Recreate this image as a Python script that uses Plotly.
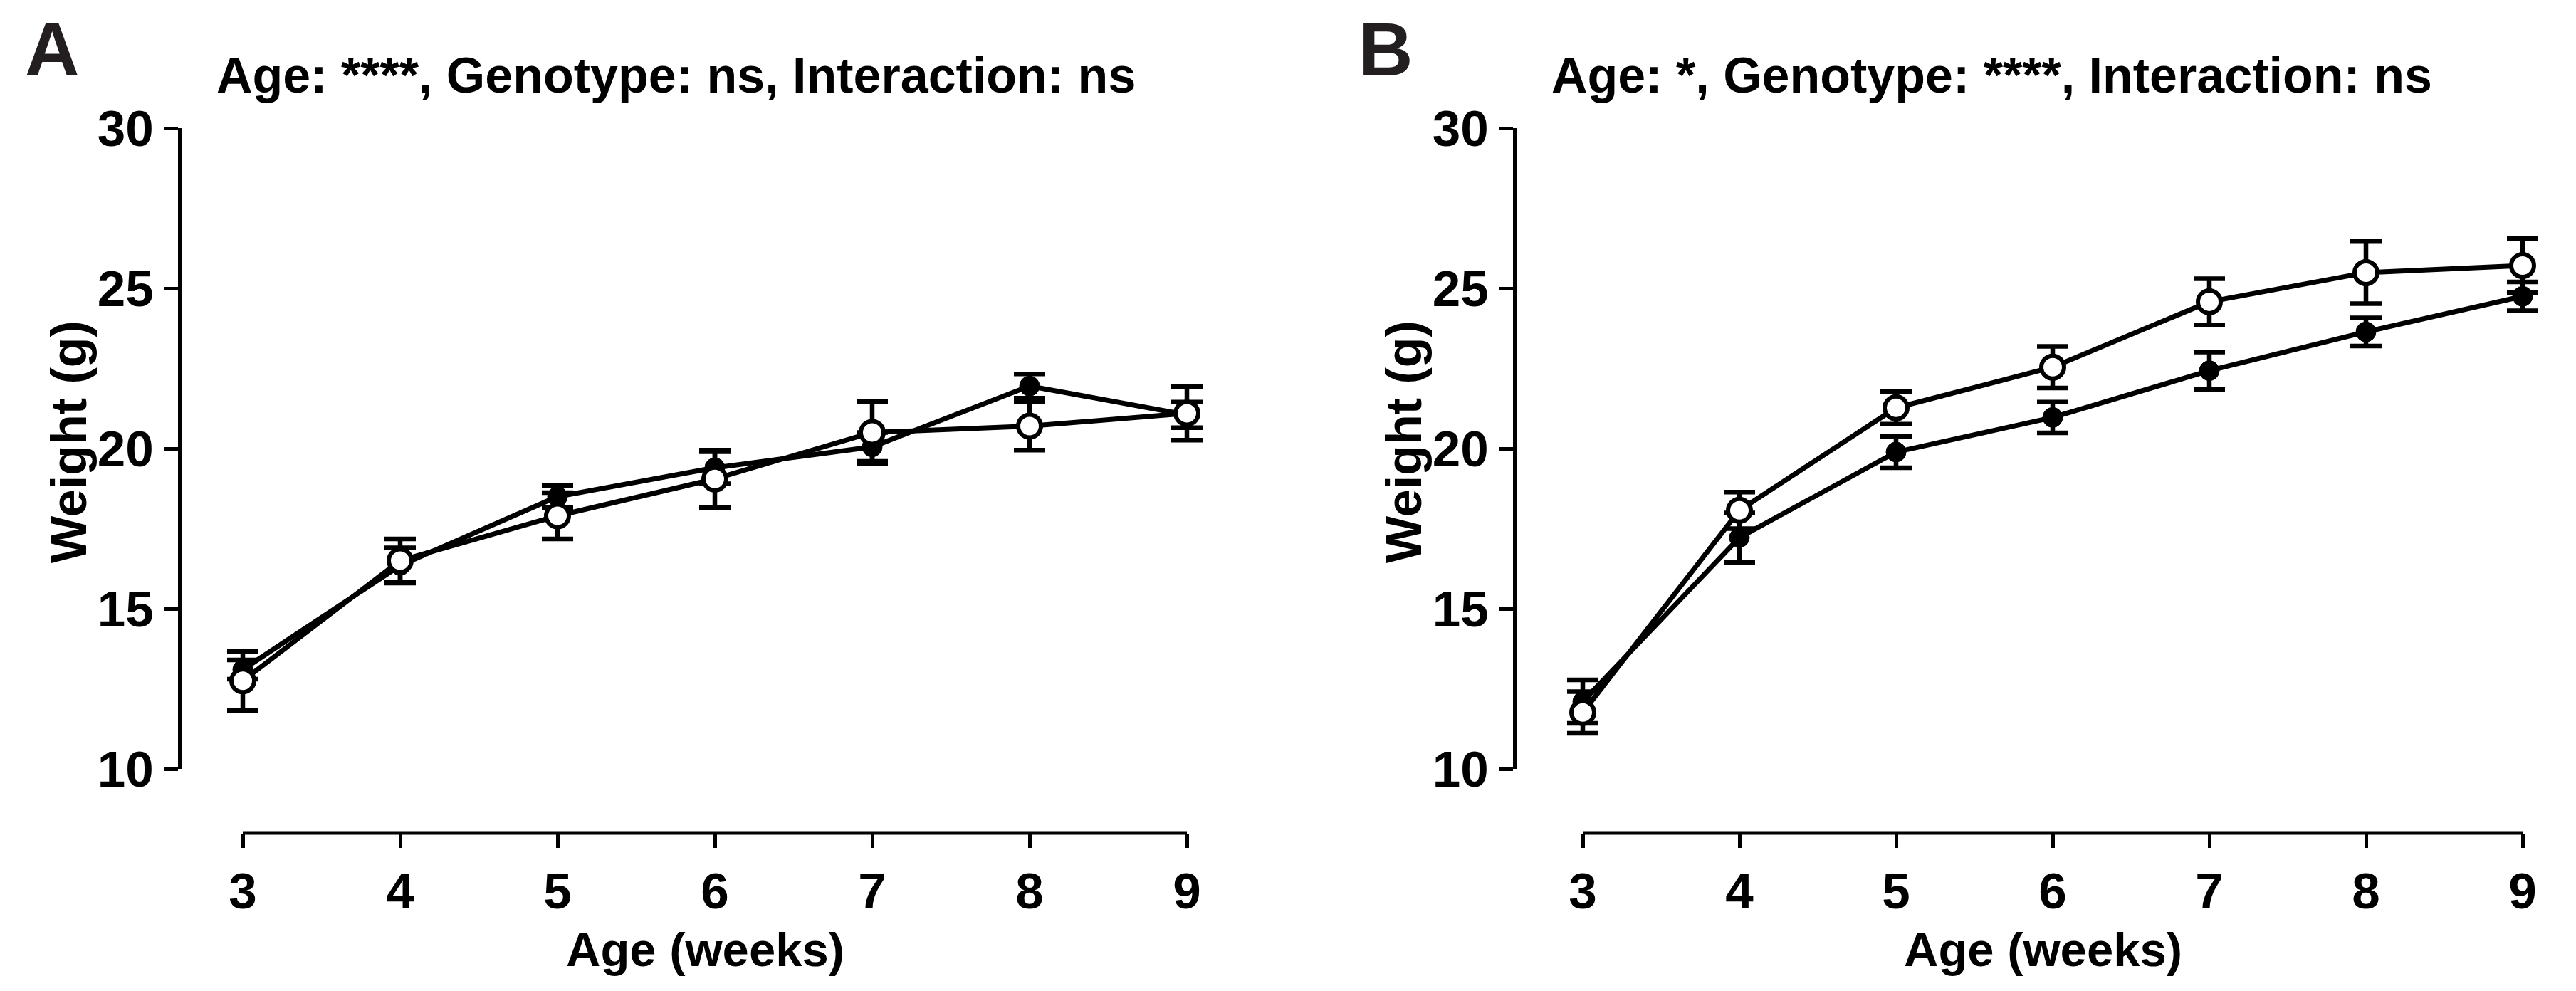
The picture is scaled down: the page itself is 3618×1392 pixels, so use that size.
import plotly.graph_objects as go

# ---------------- data ----------------
weeks = [3, 4, 5, 6, 7, 8, 9]
y_ticks = [10, 15, 20, 25, 30]

# Panel A
a_filled = [13.1, 16.35, 18.5, 19.4, 20.05, 21.95, 21.05]
a_filled_sem = [0.3, 0.55, 0.35, 0.5, 0.45, 0.38, 0.4]
a_open = [12.75, 16.5, 17.9, 19.05, 20.5, 20.7, 21.1]
a_open_sem = [0.92, 0.68, 0.72, 0.9, 0.97, 0.75, 0.84]

# Panel B
b_filled = [12.1, 17.22, 19.89, 20.97, 22.43, 23.64, 24.75]
b_filled_sem = [0.68, 0.77, 0.49, 0.48, 0.58, 0.44, 0.45]
b_open = [11.76, 18.07, 21.27, 22.54, 24.58, 25.49, 25.71]
b_open_sem = [0.65, 0.57, 0.51, 0.65, 0.72, 0.97, 0.85]

title_a = "Age: ****, Genotype: ns, Interaction: ns"
title_b = "Age: *, Genotype: ****, Interaction: ns"
x_title = "Age (weeks)"
y_title = "Weight (g)"

# ---------------- layout helpers ----------------
W, H = 3618, 1392
OFF = 8  # default page body margin in the browser
FONT = "Liberation Sans, Arial, Helvetica, sans-serif"


def fx(px):
    return (px - OFF) / W


def fy(py):
    return 1 - (py - OFF) / H


# pixel geometry of each panel
panels = [
    dict(x3=341, x9=1667, yaxis_x=252, title=title_a, tx=950, letter="A",
         lx=73, xl=990, yl=97, f=a_filled, fe=a_filled_sem,
         o=a_open, oe=a_open_sem),
    dict(x3=2223, x9=3543, yaxis_x=2127, title=title_b, tx=2797, letter="B",
         lx=1946, xl=2869, yl=1972, f=b_filled, fe=b_filled_sem,
         o=b_open, oe=b_open_sem),
]
Y30, Y10, XAXIS_Y = 180, 1080, 1170
PAD = 0.2  # extra range in weeks on both sides so markers are not clipped

fig = go.Figure()
annotations = []
shapes = []
lay = {}

for i, p in enumerate(panels):
    n = "" if i == 0 else str(i + 1)
    xa, ya = "x" + n, "y" + n
    per_week = (p["x9"] - p["x3"]) / (max(weeks) - min(weeks))
    d0 = p["x3"] - PAD * per_week
    d1 = p["x9"] + PAD * per_week

    err_common = dict(type="data", symmetric=True, color="black",
                      thickness=6.5, width=22)
    fig.add_trace(go.Scatter(
        x=weeks, y=p["f"], xaxis=xa, yaxis=ya, mode="lines+markers",
        name="Filled", showlegend=False, cliponaxis=False,
        line=dict(color="black", width=7),
        marker=dict(symbol="circle", size=28, color="black",
                    line=dict(color="black", width=1)),
        error_y=dict(array=p["fe"], **err_common)))
    fig.add_trace(go.Scatter(
        x=weeks, y=p["o"], xaxis=xa, yaxis=ya, mode="lines+markers",
        name="Open", showlegend=False, cliponaxis=False,
        line=dict(color="black", width=7),
        marker=dict(symbol="circle", size=32, color="white",
                    line=dict(color="black", width=6)),
        error_y=dict(array=p["oe"], **err_common)))

    lay["xaxis" + n] = dict(
        domain=[fx(d0), fx(d1)], range=[min(weeks) - PAD, max(weeks) + PAD],
        anchor="free", position=fy(XAXIS_Y), automargin=False,
        tickmode="array", tickvals=weeks, ticktext=[str(w) for w in weeks],
        ticks="outside", ticklen=20, tickwidth=5, tickcolor="black",
        showline=False, showgrid=False, zeroline=False,
        tickfont=dict(family=FONT, size=71, color="black", weight="bold"),
    )
    lay["yaxis" + n] = dict(
        domain=[fy(Y10), fy(Y30)], range=[min(y_ticks), max(y_ticks)],
        anchor="free", position=fx(p["yaxis_x"]), automargin=False,
        tickmode="array", tickvals=y_ticks,
        ticks="outside", ticklen=20, tickwidth=5, tickcolor="black",
        showline=True, linewidth=5, linecolor="black",
        showgrid=False, zeroline=False,
        tickfont=dict(family=FONT, size=71, color="black", weight="bold"),
    )
    # x axis baseline spanning first to last week (GraphPad style)
    shapes.append(dict(type="line", xref=xa, yref="paper",
                       x0=min(weeks), x1=max(weeks),
                       y0=fy(XAXIS_Y), y1=fy(XAXIS_Y),
                       line=dict(color="black", width=5)))

    annotations += [
        dict(text=p["title"], x=fx(p["tx"]), y=fy(106), xref="paper",
             yref="paper", xanchor="center", yanchor="middle", showarrow=False,
             font=dict(family=FONT, size=70, color="black", weight="bold")),
        dict(text=p["letter"], x=fx(p["lx"]), y=1, xref="paper",
             yref="paper", xanchor="center", yanchor="top", showarrow=False,
             font=dict(family=FONT, size=106, color="#231f20", weight="bold")),
        dict(text=x_title, x=fx(p["xl"]), y=fy(1333), xref="paper",
             yref="paper", xanchor="center", yanchor="middle", showarrow=False,
             font=dict(family=FONT, size=67, color="black", weight="bold")),
        dict(text=y_title, x=fx(p["yl"]), y=fy(621), xref="paper",
             yref="paper", xanchor="center", yanchor="middle", showarrow=False,
             textangle=-90,
             font=dict(family=FONT, size=70, color="black", weight="bold")),
    ]

fig.update_layout(
    width=W, height=H,
    margin=dict(l=0, r=0, t=0, b=0, autoexpand=False),
    paper_bgcolor="white", plot_bgcolor="white",
    showlegend=False,
    annotations=annotations, shapes=shapes,
    **lay,
)

fig.write_html("out.html")
